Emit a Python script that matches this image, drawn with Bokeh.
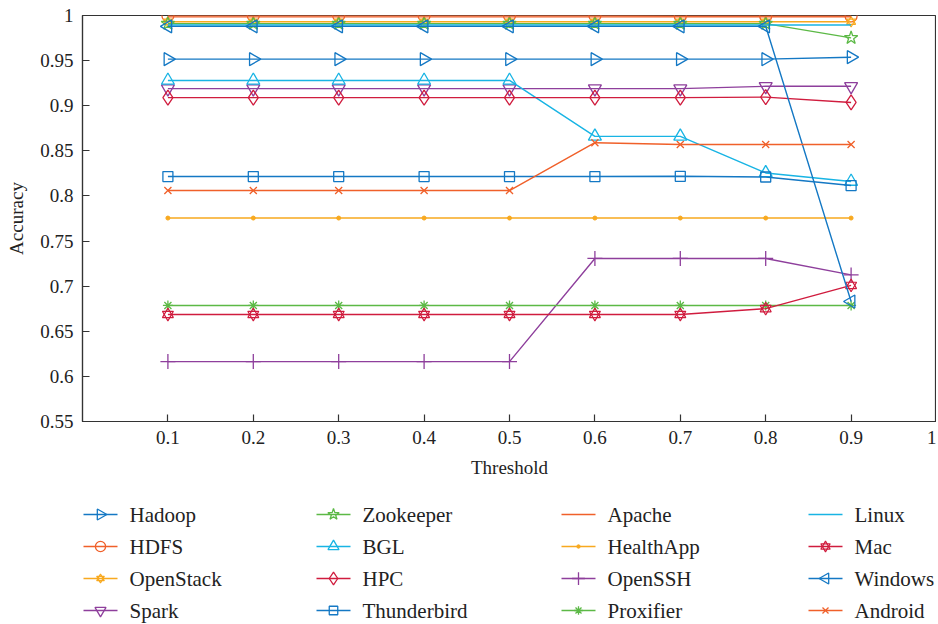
import math
from bokeh.plotting import figure
from bokeh.models import FixedTicker, CustomJSTickFormatter, Range1d
from bokeh.core.properties import value
from bokeh.layouts import column
from bokeh.embed import file_html
from bokeh.resources import INLINE

# ---------------- data ----------------
thresholds = [0.1, 0.2, 0.3, 0.4, 0.5, 0.6, 0.7, 0.8, 0.9]
x_ticks = [0.1, 0.2, 0.3, 0.4, 0.5, 0.6, 0.7, 0.8, 0.9, 1.0]
y_ticks = [0.55, 0.6, 0.65, 0.7, 0.75, 0.8, 0.85, 0.9, 0.95, 1.0]

hadoop      = [0.9516, 0.9516, 0.9516, 0.9516, 0.9516, 0.9516, 0.9516, 0.9516, 0.9538]
hdfs        = [1.0, 1.0, 1.0, 1.0, 1.0, 1.0, 0.9995, 0.9995, 0.9995]
openstack   = [0.9930, 0.9930, 0.9930, 0.9930, 0.9930, 0.9930, 0.9930, 0.9930, 0.9930]
spark       = [0.9190, 0.9190, 0.9190, 0.9190, 0.9190, 0.9190, 0.9190, 0.9215, 0.9215]
zookeeper   = [0.9910, 0.9910, 0.9910, 0.9910, 0.9910, 0.9910, 0.9910, 0.9910, 0.9752]
bgl         = [0.9280, 0.9280, 0.9280, 0.9280, 0.9280, 0.8660, 0.8660, 0.8255, 0.8160]
hpc         = [0.9090, 0.9090, 0.9090, 0.9090, 0.9090, 0.9090, 0.9090, 0.9095, 0.9036]
thunderbird = [0.8215, 0.8215, 0.8215, 0.8215, 0.8215, 0.8215, 0.8218, 0.8210, 0.8115]
apache      = [0.9985, 0.9985, 0.9985, 0.9985, 0.9985, 0.9985, 0.9985, 0.9985, 0.9985]
healthapp   = [0.7755, 0.7755, 0.7755, 0.7755, 0.7755, 0.7755, 0.7755, 0.7755, 0.7755]
openssh     = [0.6164, 0.6164, 0.6164, 0.6164, 0.6164, 0.7307, 0.7307, 0.7307, 0.7125]
proxifier   = [0.6786, 0.6786, 0.6786, 0.6786, 0.6786, 0.6786, 0.6786, 0.6786, 0.6786]
linux       = [0.9895, 0.9895, 0.9895, 0.9895, 0.9895, 0.9895, 0.9895, 0.9895, 0.9895]
mac         = [0.6686, 0.6686, 0.6686, 0.6686, 0.6686, 0.6686, 0.6686, 0.6751, 0.7008]
windows     = [0.9880, 0.9880, 0.9880, 0.9880, 0.9880, 0.9880, 0.9880, 0.9880, 0.6830]
android     = [0.8060, 0.8060, 0.8060, 0.8060, 0.8060, 0.8590, 0.8570, 0.8570, 0.8570]

names = ["Hadoop", "HDFS", "OpenStack", "Spark", "Zookeeper", "BGL", "HPC", "Thunderbird",
         "Apache", "HealthApp", "OpenSSH", "Proxifier", "Linux", "Mac", "Windows", "Android"]
values = [hadoop, hdfs, openstack, spark, zookeeper, bgl, hpc, thunderbird,
          apache, healthapp, openssh, proxifier, linux, mac, windows, android]

# ---------------- styles ----------------
BLUE = "#1478c4"
ORANGE = "#f0602a"
YELLOW = "#f8a91f"
PURPLE = "#8e3f9c"
GREEN = "#5cb946"
CYAN = "#18b4e4"
RED = "#d01c3e"

styles = {
    "Hadoop":      (BLUE,   "triangle", 13, -math.pi / 2),
    "HDFS":        (ORANGE, "circle", 12, 0),
    "OpenStack":   (YELLOW, "hexagram", 9, 0),
    "Spark":       (PURPLE, "inverted_triangle", 13, 0),
    "Zookeeper":   (GREEN,  "star", 14, 0),
    "BGL":         (CYAN,   "triangle", 13, 0),
    "HPC":         (RED,    "diamond", 15, 0),
    "Thunderbird": (BLUE,   "square", 10, 0),
    "Apache":      (ORANGE, None, 0, 0),
    "HealthApp":   (YELLOW, "dotfill", 4, 0),
    "OpenSSH":     (PURPLE, "cross", 15, 0),
    "Proxifier":   (GREEN,  "asterisk", 10, 0),
    "Linux":       (CYAN,   None, 0, 0),
    "Mac":         (RED,    "hexagram", 11, 0),
    "Windows":     (BLUE,   "triangle", 13, math.pi / 2),
    "Android":     (ORANGE, "x", 10, 0),
}

FONT = "Liberation Serif"
INK = "#222222"
AXC = "#333333"

# legend layout (pixels inside the legend strip, x measured from the plot frame's left edge)
LEG_COL_X = [1, 234, 479, 726]
LEG_ROW_Y = [21, 53, 85, 117]
LEG_GLYPH_W = 34
LEG_TEXT_GAP = 12
LEG_MARKER_SCALE = 0.85

W = 936
FRAME_W = W - 82


def draw_series(fig, name, xs, ys, draw_line=True, scale=1.0):
    color, marker, size, angle = styles[name]
    size = size * scale
    if draw_line:
        fig.line(xs, ys, line_color=color, line_width=1.4)
    if marker == "hexagram":
        for m in ("triangle", "inverted_triangle"):
            fig.scatter(xs, ys, marker=m, size=size, line_color=color,
                        fill_color=None, line_width=1.2)
    elif marker == "dotfill":
        fig.scatter(xs, ys, marker="circle", size=size, line_color=color,
                    fill_color=color, line_width=1)
    elif marker is not None:
        fig.scatter(xs, ys, marker=marker, size=size, angle=angle,
                    line_color=color, fill_color=None, line_width=1.3)


# ---------------- main chart ----------------
p = figure(width=W, height=493, output_backend="svg", toolbar_location=None,
           x_range=Range1d(0, 1), y_range=Range1d(0.55, 1.0),
           min_border_left=82, min_border_right=0, min_border_top=15, min_border_bottom=72)

p.xgrid.visible = False
p.ygrid.visible = False
p.outline_line_color = AXC
p.outline_line_width = 1.2

fmt = CustomJSTickFormatter(code="return parseFloat(tick.toFixed(2)).toString();")
p.xaxis.ticker = FixedTicker(ticks=x_ticks, minor_ticks=[])
p.yaxis.ticker = FixedTicker(ticks=y_ticks, minor_ticks=[])
for ax in (p.xaxis[0], p.yaxis[0]):
    ax.formatter = fmt
    ax.major_tick_in = 7
    ax.major_tick_out = 0
    ax.minor_tick_in = 0
    ax.minor_tick_out = 0
    ax.axis_line_color = AXC
    ax.axis_line_width = 1.2
    ax.major_tick_line_color = AXC
    ax.major_tick_line_width = 1.2
    ax.major_label_text_font = FONT
    ax.major_label_text_font_size = "19px"
    ax.major_label_text_color = INK
    ax.axis_label_text_font = FONT
    ax.axis_label_text_font_size = "19px"
    ax.axis_label_text_font_style = "normal"
    ax.axis_label_text_color = INK
    ax.major_label_standoff = 9
    ax.axis_label_standoff = 10

p.xaxis.axis_label = "Threshold"
p.yaxis.axis_label = "Accuracy"

for name, vals in zip(names, values):
    draw_series(p, name, thresholds, vals)

# ---------------- legend strip ----------------
LG_H = 131
lg = figure(width=W, height=LG_H, output_backend="svg", toolbar_location=None,
            x_range=Range1d(0, FRAME_W), y_range=Range1d(LG_H, 0),
            x_axis_location=None, y_axis_location=None,
            min_border_left=82, min_border_right=0, min_border_top=0, min_border_bottom=0)
lg.xgrid.visible = False
lg.ygrid.visible = False
lg.outline_line_color = None

text_x, text_y = [], []
for i, name in enumerate(names):
    cx = LEG_COL_X[i // 4]
    cy = LEG_ROW_Y[i % 4]
    color = styles[name][0]
    lg.line([cx, cx + LEG_GLYPH_W], [cy, cy], line_color=color, line_width=1.4)
    draw_series(lg, name, [cx + LEG_GLYPH_W / 2], [cy], draw_line=False,
                scale=LEG_MARKER_SCALE)
    text_x.append(cx + LEG_GLYPH_W + LEG_TEXT_GAP)
    text_y.append(cy)

lg.text(x=text_x, y=text_y, text=names, text_font=value(FONT),
        text_font_size=value("21px"), text_baseline="middle", text_align="left",
        text_color=INK)

layout = column(p, lg, spacing=0)
open("out.html", "w").write(file_html(layout, INLINE))
